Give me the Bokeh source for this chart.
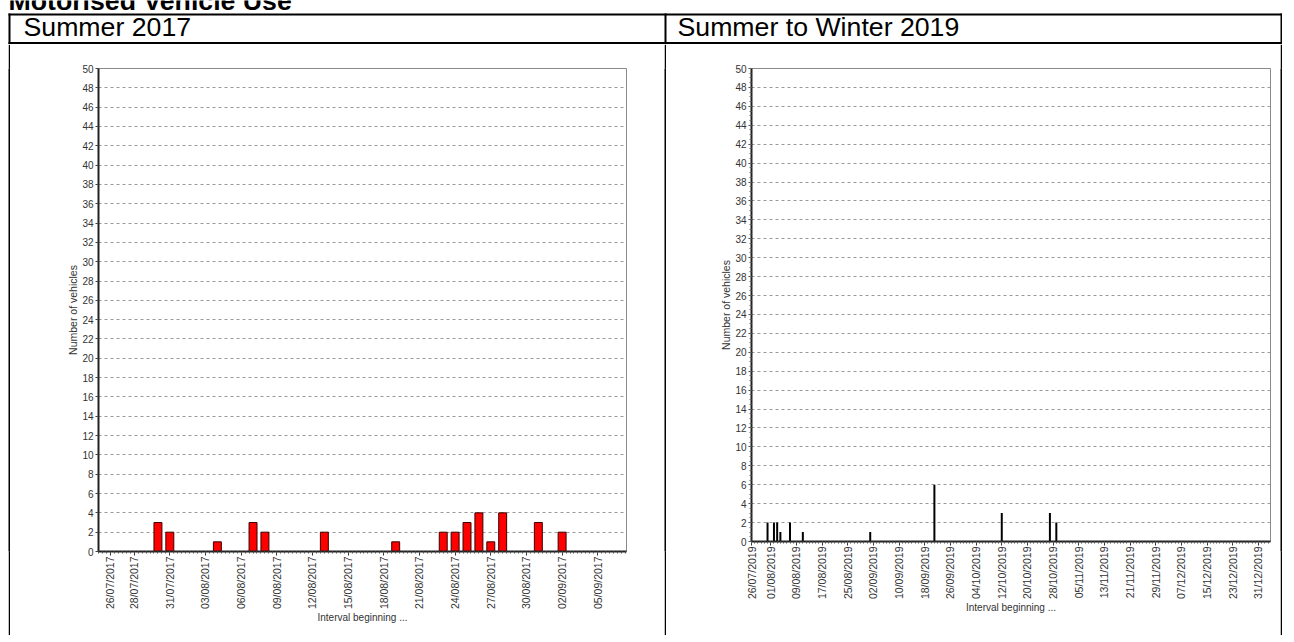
import math
import pandas as pd
from bokeh.plotting import figure
from bokeh.models import (Range1d, FixedTicker, SingleIntervalTicker,
                          DatetimeTickFormatter, BoxAnnotation, Label, Spacer)
from bokeh.layouts import row, column
from bokeh.embed import file_html
from bokeh.resources import INLINE

# ---------------- data ----------------
page_title = "Motorised Vehicle Use"
headers = ["Summer 2017", "Summer to Winter 2019"]
y_label = "Number of vehicles"
x_label = "Interval beginning ..."

dates_2017 = ["2017-07-30", "2017-07-31", "2017-08-04", "2017-08-07", "2017-08-08",
              "2017-08-13", "2017-08-19", "2017-08-23", "2017-08-24", "2017-08-25",
              "2017-08-26", "2017-08-27", "2017-08-28", "2017-08-31", "2017-09-02"]
counts_2017 = [3, 2, 1, 3, 2, 2, 1, 2, 2, 3, 4, 1, 4, 3, 2]
ticks_2017 = ["2017-07-26", "2017-07-28", "2017-07-31", "2017-08-03", "2017-08-06",
              "2017-08-09", "2017-08-12", "2017-08-15", "2017-08-18", "2017-08-21",
              "2017-08-24", "2017-08-27", "2017-08-30", "2017-09-02", "2017-09-05"]

dates_2019 = ["2019-07-31", "2019-08-02", "2019-08-03", "2019-08-04", "2019-08-07",
              "2019-08-11", "2019-09-01", "2019-09-21", "2019-10-12", "2019-10-27",
              "2019-10-29"]
counts_2019 = [2, 2, 2, 1, 2, 1, 1, 6, 3, 3, 2]
ticks_2019 = ["2019-07-26", "2019-08-01", "2019-08-09", "2019-08-17", "2019-08-25",
              "2019-09-02", "2019-09-10", "2019-09-18", "2019-09-26", "2019-10-04",
              "2019-10-12", "2019-10-20", "2019-10-28", "2019-11-05", "2019-11-13",
              "2019-11-21", "2019-11-29", "2019-12-07", "2019-12-15", "2019-12-23",
              "2019-12-31"]

y_max = 50
y_step = 2

FONT = "Liberation Sans"
DAY_MS = 86400000


def ms(d):
    return pd.Timestamp(d).value / 1e6


def make_chart(width, height, mb_left, mb_right, mb_top, mb_bottom,
               x_start, x_end, dates, counts, ticks, minor_freq,
               bar_frac, bar_fill, bar_line, y_minor):
    p = figure(width=width, height=height, x_axis_type="datetime",
               output_backend="svg", toolbar_location=None, title=None,
               min_border_left=mb_left, min_border_right=mb_right,
               min_border_top=mb_top, min_border_bottom=mb_bottom,
               x_range=Range1d(pd.Timestamp(x_start), pd.Timestamp(x_end)),
               y_range=Range1d(0, y_max))
    p.background_fill_color = "white"
    p.border_fill_color = "white"
    p.outline_line_color = "#8a8a8a"
    p.outline_line_width = 1

    p.vbar(x=pd.to_datetime(dates), top=counts, bottom=0,
           width=bar_frac * DAY_MS, fill_color=bar_fill,
           line_color=bar_line, line_width=1)

    # x axis
    xa = p.xaxis[0]
    minor = [ms(t) for t in pd.date_range(x_start, x_end, freq=minor_freq)]
    xa.ticker = FixedTicker(ticks=[ms(t) for t in ticks], minor_ticks=minor)
    fmt = "%d/%m/%Y"
    xa.formatter = DatetimeTickFormatter(
        microseconds=fmt, milliseconds=fmt, seconds=fmt, minsec=fmt,
        minutes=fmt, hourmin=fmt, hours=fmt, days=fmt, months=fmt, years=fmt)
    xa.major_label_orientation = math.pi / 2
    xa.major_label_text_font = FONT
    xa.major_label_text_font_size = "10.5px"
    xa.major_label_text_color = "#333333"
    xa.major_label_standoff = 1
    xa.axis_line_color = "#222222"
    xa.axis_line_width = 2
    xa.major_tick_in = 0
    xa.major_tick_out = 4
    xa.minor_tick_in = 0
    xa.minor_tick_out = 2
    xa.major_tick_line_color = "#333333"
    xa.minor_tick_line_color = "#555555"
    xa.axis_label = x_label
    xa.axis_label_text_font = FONT
    xa.axis_label_text_font_size = "10px"
    xa.axis_label_text_font_style = "normal"
    xa.axis_label_text_color = "#333333"
    xa.axis_label_standoff = 0

    # y axis
    ya = p.yaxis[0]
    ya.ticker = SingleIntervalTicker(interval=y_step, num_minor_ticks=4 if y_minor else 0)
    ya.major_label_text_font = FONT
    ya.major_label_text_font_size = "10px"
    ya.major_label_text_color = "#333333"
    ya.major_label_standoff = 2
    ya.axis_line_color = "#222222"
    ya.axis_line_width = 2
    ya.major_tick_in = 0
    ya.major_tick_out = 3
    ya.major_tick_line_color = "#444444"
    ya.minor_tick_in = 0
    ya.minor_tick_out = 2
    ya.minor_tick_line_color = "#666666" if y_minor else None
    ya.axis_label = y_label
    ya.axis_label_text_font = FONT
    ya.axis_label_text_font_size = "10.5px"
    ya.axis_label_text_font_style = "normal"
    ya.axis_label_text_color = "#333333"
    ya.axis_label_standoff = 0

    p.xgrid.grid_line_color = None
    p.ygrid.ticker = SingleIntervalTicker(interval=y_step)
    p.ygrid.grid_line_color = "#9a9a9a"
    p.ygrid.grid_line_dash = "3 3"
    p.ygrid.grid_line_width = 1
    return p


def black_bar(width, height):
    p = figure(width=width, height=height, output_backend="svg",
               toolbar_location=None, title=None,
               x_axis_location=None, y_axis_location=None, min_border=0,
               background_fill_color="black", border_fill_color="black",
               outline_line_color=None, x_range=Range1d(0, 1), y_range=Range1d(0, 1))
    p.grid.visible = False
    return p


MARGIN = 8
TOP_W = 1282
TOP_H = 44        # title + header row
MID_H = 591       # chart cells
LINE = 2
TABLE_W = 1274

# ---------- top strip: title, header texts, table rules ----------
top = figure(width=TOP_W, height=TOP_H, output_backend="svg",
             toolbar_location=None, title=None,
             x_axis_location=None, y_axis_location=None, min_border=0,
             x_range=Range1d(0, TOP_W), y_range=Range1d(TOP_H, 0),
             background_fill_color="white", border_fill_color="white",
             outline_line_color=None)
top.grid.visible = False


def rule(p, l, r, t, b):
    p.add_layout(BoxAnnotation(left=l, right=r, top=t, bottom=b,
                               fill_color="black", fill_alpha=1,
                               line_color=None, line_alpha=0))


rule(top, 8, 1282, 13, 15)          # table top
rule(top, 8, 1282, 41.5, 43.5)      # header separator
rule(top, 8, 10, 13, TOP_H)         # left border
rule(top, 664, 666, 13, TOP_H)      # middle divider
rule(top, 1280, 1282, 13, TOP_H)    # right border

top.add_layout(Label(x=8, y=0, text=page_title, text_font=FONT,
                     text_font_size="26.7px", text_font_style="bold",
                     text_color="black", text_baseline="alphabetic",
                     text_align="left"))
top.add_layout(Label(x=23, y=26, text=headers[0], text_font=FONT,
                     text_font_size="26.7px", text_color="black",
                     text_baseline="alphabetic", text_align="left"))
top.add_layout(Label(x=677, y=26, text=headers[1], text_font=FONT,
                     text_font_size="26.7px", text_color="black",
                     text_baseline="alphabetic", text_align="left"))

# ---------- chart cells ----------
f1 = make_chart(654, MID_H, 88, 38, 24, 84, "2017-07-25", "2017-09-07 10:00",
                dates_2017, counts_2017, ticks_2017, "8h",
                0.67, "#ff0000", "#3a0000", False)
f2 = make_chart(614, MID_H - 10, 85, 10, 24, 84, "2019-07-26", "2020-01-03 18:00",
                dates_2019, counts_2019, ticks_2019, "1D",
                0.62, "#000000", None, True)

mid = row(Spacer(width=MARGIN, height=MID_H), black_bar(LINE, MID_H), f1,
          black_bar(LINE, MID_H), f2, black_bar(LINE, MID_H), spacing=0)

bottom = row(Spacer(width=MARGIN, height=LINE), black_bar(TABLE_W, LINE), spacing=0)

layout = column(top, mid, bottom, spacing=0)

open("out.html", "w").write(file_html(layout, INLINE))
